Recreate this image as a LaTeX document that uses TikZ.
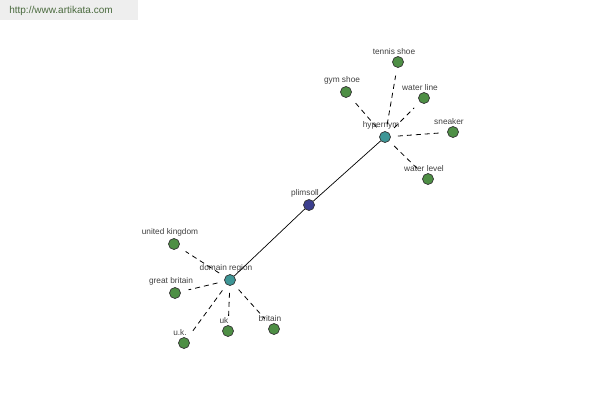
\documentclass[tikz,border=0pt]{standalone}
\usepackage{fontspec}
\setmainfont{Liberation Sans}
\usepackage{tikz}

\definecolor{leafgreen}{HTML}{4E8F45}
\definecolor{hubteal}{HTML}{3E9696}
\definecolor{rootblue}{HTML}{3C3F8F}
\definecolor{headergray}{HTML}{EEEEEE}
\definecolor{headertext}{HTML}{4A6A3E}

\tikzset{
    word/.style={circle, draw=black!80, line width=0.7pt, minimum size=11pt, inner sep=0pt,
        label={[font=\fontsize{8.3}{9}\selectfont, text=black!75, inner sep=1.5pt, xshift=-4pt]above:#1}},
    leaf/.style={word=#1, fill=leafgreen},
    hub/.style={word=#1, fill=hubteal},
    link/.style={black, line width=0.8pt, dash pattern=on 5pt off 4pt, shorten <=7pt, shorten >=8pt}
}

\begin{document}
\begin{tikzpicture}[x=1pt, y=-1pt]
    \useasboundingbox (0,0) rectangle (600,400);

    % Header
    \fill[headergray] (0,0) rectangle (138,20);
    \node[text=headertext, font=\fontsize{10}{12}\selectfont] (site) at (61,11) {http://www.artikata.com};

    % Root and the two hubs
    \node[word=plimsoll, fill=rootblue] (plimsoll) at (309,205) {};
    \node[hub=hypernym] (hypernym) at (385,137) {};
    \node[hub=domain region] (domain) at (230,280) {};

    % Leaves of the hypernym hub
    \node[leaf=tennis shoe] (tennis) at (398,62) {};
    \node[leaf=gym shoe] (gym) at (346,92) {};
    \node[leaf=water line] (waterline) at (424,98) {};
    \node[leaf=sneaker] (sneaker) at (453,132) {};
    \node[leaf=water level] (waterlevel) at (428,179) {};

    % Leaves of the domain region hub
    \node[leaf=united kingdom] (unitedkingdom) at (174,244) {};
    \node[leaf=great britain] (greatbritain) at (175,293) {};
    \node[leaf=u.k.] (ukdots) at (184,343) {};
    \node[leaf=uk] (uk) at (228,331) {};
    \node[leaf=britain] (britain) at (274,329) {};

    % Solid links to the root
    \draw[black, line width=0.7pt] (hypernym) -- (plimsoll) -- (domain);

    % Dashed links to the leaves
    \foreach \n in {tennis,gym,waterline,sneaker,waterlevel} {
        \draw[link] (hypernym) -- (\n);
    }
    \foreach \n in {unitedkingdom,greatbritain,ukdots,uk,britain} {
        \draw[link] (domain) -- (\n);
    }

\end{tikzpicture}
\end{document}
